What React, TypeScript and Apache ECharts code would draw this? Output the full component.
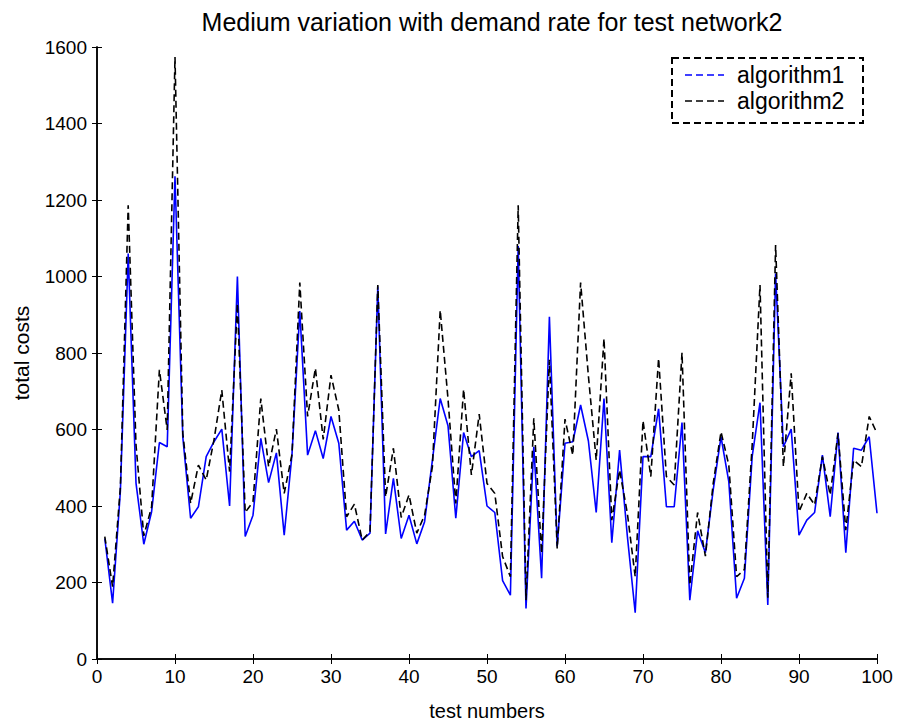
import React, { useEffect, useRef } from "react";
import * as echarts from "echarts";

const testNumbers = [
  1, 2, 3, 4, 5, 6, 7, 8, 9, 10, 11, 12, 13, 14, 15, 16, 17, 18, 19, 20,
  21, 22, 23, 24, 25, 26, 27, 28, 29, 30, 31, 32, 33, 34, 35, 36, 37, 38, 39, 40,
  41, 42, 43, 44, 45, 46, 47, 48, 49, 50, 51, 52, 53, 54, 55, 56, 57, 58, 59, 60,
  61, 62, 63, 64, 65, 66, 67, 68, 69, 70, 71, 72, 73, 74, 75, 76, 77, 78, 79, 80,
  81, 82, 83, 84, 85, 86, 87, 88, 89, 90, 91, 92, 93, 94, 95, 96, 97, 98, 99, 100,
];

const algorithm1 = [
  315, 146, 440, 1060, 460, 300, 385, 566, 555, 1262,
  580, 368, 398, 529, 568, 601, 400, 1000, 320, 376,
  577, 461, 539, 324, 535, 910, 533, 597, 524, 634,
  564, 337, 360, 311, 329, 973, 327, 472, 315, 376,
  301, 359, 520, 681, 610, 368, 592, 529, 545, 400,
  383, 205, 167, 1080, 132, 555, 211, 895, 295, 564,
  568, 664, 570, 383, 681, 304, 546, 320, 121, 529,
  529, 654, 398, 398, 618, 154, 335, 278, 442, 581,
  464, 159, 211, 530, 670, 141, 1008, 555, 601, 324,
  363, 383, 533, 372, 592, 278, 551, 546, 581, 381,
];

const algorithm2 = [
  320, 189, 450, 1186, 560, 322, 398, 756, 599, 1574,
  590, 407, 507, 468, 573, 703, 490, 930, 383, 411,
  681, 503, 601, 433, 535, 984, 634, 760, 574, 742,
  651, 372, 405, 311, 333, 978, 424, 551, 370, 429,
  329, 376, 503, 912, 680, 407, 705, 481, 640, 459,
  433, 268, 215, 1186, 154, 629, 276, 782, 289, 627,
  533, 984, 740, 520, 838, 363, 494, 380, 215, 623,
  477, 786, 477, 455, 801, 193, 383, 269, 459, 594,
  507, 215, 234, 560, 978, 160, 1082, 503, 747, 385,
  433, 403, 529, 429, 590, 337, 520, 503, 634, 590,
];

const seriesNames = ["algorithm1", "algorithm2"];
const titleText = "Medium variation with demand rate for test network2";
const xName = "test numbers";
const yName = "total costs";

const FONT = "'Liberation Sans', Arial, Helvetica, sans-serif";

export default function App() {
  const ref = useRef<HTMLDivElement>(null);

  useEffect(() => {
    if (!ref.current) return;
    const chart = echarts.init(ref.current, null, { renderer: "svg" });
    const pair = (arr: number[]) => testNumbers.map((x, i) => [x, arr[i]]);

    const tickStyle = { show: true, inside: true, length: 5, lineStyle: { color: "#000", width: 1 } };
    const lineAxis = { show: true, lineStyle: { color: "#000", width: 1.5 } };
    const labelStyle = { color: "#000", fontSize: 19, fontFamily: FONT };

    chart.setOption({
      animation: false,
      backgroundColor: "#fff",
      title: {
        text: titleText,
        left: 487,
        top: 4,
        textAlign: "center",
        textStyle: { color: "#000", fontSize: 25, fontWeight: "normal", fontFamily: FONT },
      },
      grid: { left: 97, right: 20, top: 47, bottom: 67, containLabel: false },
      xAxis: [
        {
          type: "value",
          min: 0,
          max: 100,
          interval: 10,
          position: "bottom",
          axisLine: lineAxis,
          axisTick: tickStyle,
          axisLabel: { ...labelStyle, margin: 8, formatter: (v: number) => String(v) },
          splitLine: { show: false },
          name: xName,
          nameLocation: "middle",
          nameGap: 42,
          nameTextStyle: { color: "#000", fontSize: 20, fontFamily: FONT },
        },
        {
          type: "value",
          min: 0,
          max: 100,
          interval: 10,
          position: "top",
          axisLine: lineAxis,
          axisTick: tickStyle,
          axisLabel: { show: false },
          splitLine: { show: false },
        },
      ],
      yAxis: [
        {
          type: "value",
          min: 0,
          max: 1600,
          interval: 200,
          position: "left",
          axisLine: lineAxis,
          axisTick: tickStyle,
          axisLabel: { ...labelStyle, margin: 10, formatter: (v: number) => String(v) },
          splitLine: { show: false },
          name: yName,
          nameLocation: "middle",
          nameGap: 65,
          nameRotate: 90,
          nameTextStyle: { color: "#000", fontSize: 21, fontFamily: FONT },
        },
        {
          type: "value",
          min: 0,
          max: 1600,
          interval: 200,
          position: "right",
          axisLine: lineAxis,
          axisTick: tickStyle,
          axisLabel: { show: false },
          splitLine: { show: false },
        },
      ],
      series: [
        {
          name: seriesNames[0],
          type: "line",
          data: pair(algorithm1),
          showSymbol: false,
          symbol: "none",
          lineStyle: { color: "#0000ff", width: 1.6, type: "solid" },
          z: 2,
        },
        {
          name: seriesNames[1],
          type: "line",
          data: pair(algorithm2),
          showSymbol: false,
          symbol: "none",
          lineStyle: { color: "#000000", width: 1.6, type: [7, 4] },
          z: 3,
        },
      ],
      graphic: [
        {
          type: "group",
          left: 671,
          top: 57,
          z: 100,
          children: [
            {
              type: "rect",
              shape: { x: 0, y: 0, width: 191, height: 65 },
              style: { fill: "#fff", stroke: "#000", lineWidth: 2, lineDash: [7, 4] },
            },
            {
              type: "line",
              shape: { x1: 13, y1: 17, x2: 52, y2: 17 },
              style: { stroke: "#0000ff", lineWidth: 1.5, lineDash: [7, 4] },
            },
            {
              type: "text",
              x: 65,
              y: 17,
              style: { text: seriesNames[0], fill: "#000", fontSize: 23, fontFamily: FONT, verticalAlign: "middle" },
            },
            {
              type: "line",
              shape: { x1: 13, y1: 43, x2: 52, y2: 43 },
              style: { stroke: "#000", lineWidth: 1.5, lineDash: [7, 4] },
            },
            {
              type: "text",
              x: 65,
              y: 43,
              style: { text: seriesNames[1], fill: "#000", fontSize: 23, fontFamily: FONT, verticalAlign: "middle" },
            },
          ],
        },
      ],
    });

    return () => chart.dispose();
  }, []);

  return <div ref={ref} style={{ width: 897, height: 726, position: "absolute", left: 0, top: 0 }} />;
}
